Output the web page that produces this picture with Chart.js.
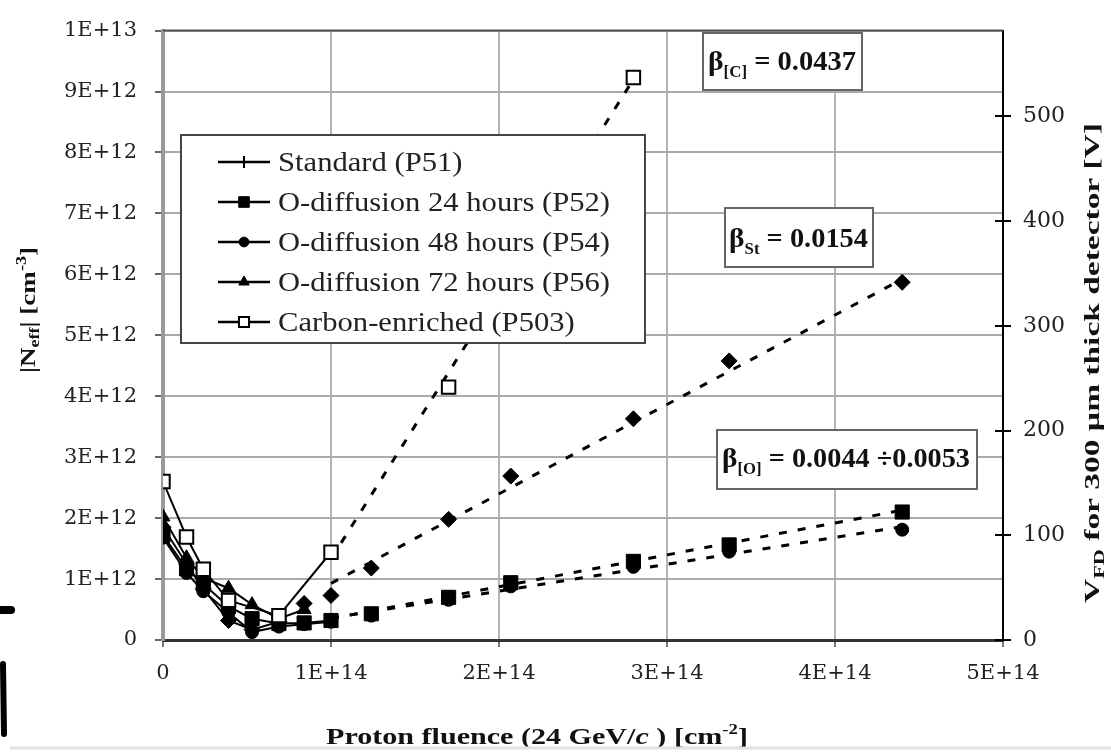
<!DOCTYPE html>
<html><head><meta charset="utf-8">
<script src="https://cdn.jsdelivr.net/npm/chart.js@4.4.1/dist/chart.umd.min.js"></script>
<style>html,body{margin:0;padding:0;background:#fff;overflow:hidden}</style>
</head><body>
<canvas id="c" width="1111" height="753"></canvas>
<script>
// ---------------- DATA ----------------
const xTickValues = [0, 1e14, 2e14, 3e14, 4e14, 5e14];
const yTickValues = [0, 1e12, 2e12, 3e12, 4e12, 5e12, 6e12, 7e12, 8e12, 9e12, 1e13];
const vTickValues = [0, 100, 200, 300, 400, 500];

const seriesNames = ["Standard (P51)", "O-diffusion 24 hours (P52)", "O-diffusion 48 hours (P54)", "O-diffusion 72 hours (P56)", "Carbon-enriched (P503)"];

// Standard (P51)
const p51Fluence = [0, 1.4e13, 2.4e13, 3.9e13, 5.3e13, 6.9e13];
const p51Neff    = [1.85e12, 1.25e12, 0.84e12, 0.32e12, 0.17e12, 0.30e12];
const p51HighFluence = [8.4e13, 1.0e14, 1.24e14, 1.70e14, 2.07e14, 2.80e14, 3.37e14, 4.40e14];
const p51HighNeff    = [0.60e12, 0.73e12, 1.18e12, 1.98e12, 2.69e12, 3.63e12, 4.58e12, 5.87e12];
const p51FitFluence = [1.0e14, 4.4e14];
const p51FitNeff    = [0.93e12, 5.92e12];

// O-diffusion 24 h (P52)
const p52Fluence = [0, 1.4e13, 2.4e13, 3.9e13, 5.3e13, 6.9e13, 8.4e13, 1.0e14];
const p52Neff    = [1.72e12, 1.17e12, 0.92e12, 0.55e12, 0.35e12, 0.27e12, 0.28e12, 0.32e12];
const p52HighFluence = [1.24e14, 1.70e14, 2.07e14, 2.80e14, 3.37e14, 4.40e14];
const p52HighNeff    = [0.43e12, 0.70e12, 0.94e12, 1.29e12, 1.56e12, 2.10e12];
const p52FitFluence = [1.0e14, 4.4e14];
const p52FitNeff    = [0.35e12, 2.13e12];

// O-diffusion 48 h (P54)
const p54Fluence = [0, 1.4e13, 2.4e13, 3.9e13, 5.3e13, 6.9e13, 8.4e13, 1.0e14];
const p54Neff    = [1.68e12, 1.10e12, 0.80e12, 0.45e12, 0.13e12, 0.22e12, 0.26e12, 0.30e12];
const p54HighFluence = [1.24e14, 1.70e14, 2.07e14, 2.80e14, 3.37e14, 4.40e14];
const p54HighNeff    = [0.40e12, 0.66e12, 0.88e12, 1.20e12, 1.45e12, 1.81e12];
const p54FitFluence = [1.0e14, 4.4e14];
const p54FitNeff    = [0.36e12, 1.86e12];

// O-diffusion 72 h (P56)
const p56Fluence = [0, 1.4e13, 2.4e13, 3.9e13, 5.3e13, 6.9e13, 8.4e13];
const p56Neff    = [2.02e12, 1.35e12, 1.02e12, 0.85e12, 0.58e12, 0.35e12, 0.50e12];

// Carbon-enriched (P503)
const p503Fluence = [0, 1.4e13, 2.4e13, 3.9e13, 6.9e13, 1.0e14];
const p503Neff    = [2.60e12, 1.69e12, 1.16e12, 0.65e12, 0.40e12, 1.44e12];
const p503HighFluence = [1.70e14, 2.80e14];
const p503HighNeff    = [4.15e12, 9.23e12];
const p503FitFluence = [1.0e14, 2.8e14];
const p503FitNeff    = [1.33e12, 9.20e12];

const betaLabels = ["0.0437", "0.0154", "0.0044 \u00F70.0053"];

// ---------------- helpers ----------------
const SERIF = '"Liberation Serif", "Times New Roman", serif';
const TICKF = '"DejaVu Serif", serif';
const pts = (xs, ys) => xs.map((x, i) => ({x: x, y: ys[i]}));
const fmtE = v => (Math.abs(v) < 1 ? '0' : Number(v).toExponential(0).replace('e+', 'E+').toUpperCase());

const STYLE = {
  p51:  {pointStyle: 'rectRot',  radius: 8,   bg: '#000', border: '#000', bw: 1},
  p52:  {pointStyle: 'rect',     radius: 10,  bg: '#000', border: '#000', bw: 1},
  p54:  {pointStyle: 'circle',   radius: 6.5, bg: '#000', border: '#000', bw: 1},
  p56:  {pointStyle: 'triangle', radius: 8,   bg: '#000', border: '#000', bw: 1},
  p503: {pointStyle: 'rect',     radius: 9.5, bg: '#fff', border: '#000', bw: 2}
};

function lineDs(label, xs, ys, st) {
  return {label, data: pts(xs, ys), showLine: true, borderColor: '#000', borderWidth: 2,
    pointStyle: st.pointStyle, pointRadius: st.radius, pointBackgroundColor: st.bg,
    pointBorderColor: st.border, pointBorderWidth: st.bw, tension: 0};
}
function markDs(label, xs, ys, st) {
  return {label, data: pts(xs, ys), showLine: false,
    pointStyle: st.pointStyle, pointRadius: st.radius, pointBackgroundColor: st.bg,
    pointBorderColor: st.border, pointBorderWidth: st.bw};
}
function fitDs(label, xs, ys) {
  return {label, data: pts(xs, ys), showLine: true, borderColor: '#000', borderWidth: 3,
    borderDash: [8, 11], pointRadius: 0, tension: 0};
}

const datasets = [
  lineDs(seriesNames[4], p503Fluence, p503Neff, STYLE.p503),
  markDs(seriesNames[4] + ' high', p503HighFluence, p503HighNeff, STYLE.p503),
  lineDs(seriesNames[3], p56Fluence, p56Neff, STYLE.p56),
  lineDs(seriesNames[2], p54Fluence, p54Neff, STYLE.p54),
  lineDs(seriesNames[1], p52Fluence, p52Neff, STYLE.p52),
  markDs(seriesNames[1] + ' high', p52HighFluence, p52HighNeff, STYLE.p52),
  markDs(seriesNames[2] + ' high', p54HighFluence, p54HighNeff, STYLE.p54),
  lineDs(seriesNames[0], p51Fluence, p51Neff, STYLE.p51),
  markDs(seriesNames[0] + ' high', p51HighFluence, p51HighNeff, STYLE.p51),
  fitDs('fit C', p503FitFluence, p503FitNeff),
  fitDs('fit St', p51FitFluence, p51FitNeff),
  fitDs('fit O 24', p52FitFluence, p52FitNeff),
  fitDs('fit O 48', p54FitFluence, p54FitNeff)
];

function richWidth(ctx, parts) {
  let w = 0;
  for (const p of parts) { ctx.font = p.f; w += ctx.measureText(p.t).width; }
  return w;
}
function drawRich(ctx, parts, x, y, target, align) {
  const w = richWidth(ctx, parts);
  const sx = target ? target / w : 1;
  ctx.save();
  ctx.translate(x, y);
  ctx.scale(sx, 1);
  ctx.textAlign = 'left';
  ctx.textBaseline = 'alphabetic';
  let cx = align === 'center' ? -w / 2 : 0;
  for (const p of parts) {
    ctx.font = p.f;
    ctx.fillText(p.t, cx, p.dy || 0);
    cx += ctx.measureText(p.t).width;
  }
  ctx.restore();
}
const B = s => 'bold ' + s + 'px ' + SERIF;
const R = s => s + 'px ' + SERIF;

const decor = {
  id: 'decor',
  beforeDatasetsDraw(chart) {
    const {ctx, chartArea: a} = chart;
    ctx.save();
    ctx.strokeStyle = '#555';
    ctx.lineWidth = 2;
    ctx.beginPath(); ctx.moveTo(a.left, a.top); ctx.lineTo(a.right, a.top); ctx.stroke();
    ctx.restore();
  },
  afterDraw(chart) {
    const {ctx, chartArea: a, scales} = chart;
    ctx.save();
    // inner ticks on right axis
    ctx.strokeStyle = '#000'; ctx.lineWidth = 2;
    for (const v of vTickValues) {
      const y = Math.round(scales.y2.getPixelForValue(v));
      ctx.beginPath(); ctx.moveTo(a.right - 8, y); ctx.lineTo(a.right, y); ctx.stroke();
    }
    // legend
    const L = {x: 181, y: 135, w: 464, h: 208};
    ctx.fillStyle = '#fff'; ctx.fillRect(L.x, L.y, L.w, L.h);
    ctx.strokeStyle = '#444'; ctx.lineWidth = 2; ctx.strokeRect(L.x, L.y, L.w, L.h);
    const legStyles = [
      {pointStyle: 'cross', radius: 8, bg: '#000', border: '#000', bw: 2},
      STYLE.p52, STYLE.p54, STYLE.p56, STYLE.p503];
    ctx.font = R(27);
    const sx = 332 / ctx.measureText(seriesNames[1]).width;
    seriesNames.forEach((name, i) => {
      const cy = 162 + i * 40;
      ctx.strokeStyle = '#000'; ctx.lineWidth = 2.5;
      ctx.beginPath(); ctx.moveTo(218, cy); ctx.lineTo(270, cy); ctx.stroke();
      const st = legStyles[i];
      ctx.fillStyle = st.bg; ctx.strokeStyle = st.border; ctx.lineWidth = st.bw;
      Chart.helpers.drawPoint(ctx, {pointStyle: st.pointStyle, radius: st.radius * 0.75, rotation: 0, borderWidth: st.bw}, 244, cy);
      ctx.fillStyle = '#222';
      ctx.font = R(27);
      drawRich(ctx, [{t: name, f: R(27)}], 278, cy + 9, ctx.measureText(name).width * sx);
    });
    // annotation boxes
    const boxes = [
      {x: 703, y: 33, w: 159, h: 57, sub: '[C]', val: betaLabels[0], tx: 708, tw: 148, base: 70},
      {x: 725, y: 208, w: 148, h: 59, sub: 'St', val: betaLabels[1], tx: 729, tw: 139, base: 247},
      {x: 717, y: 430, w: 260, h: 59, sub: '[O]', val: betaLabels[2], tx: 722, tw: 248, base: 467}
    ];
    for (const b of boxes) {
      ctx.fillStyle = '#fff'; ctx.fillRect(b.x, b.y, b.w, b.h);
      ctx.strokeStyle = '#666'; ctx.lineWidth = 2; ctx.strokeRect(b.x, b.y, b.w, b.h);
      ctx.fillStyle = '#111';
      drawRich(ctx, [{t: '\u03B2', f: B(28)}, {t: b.sub, f: B(16), dy: 7}, {t: ' = ' + b.val, f: B(27)}], b.tx, b.base, b.tw);
    }
    // axis titles
    ctx.fillStyle = '#111';
    drawRich(ctx, [{t: 'Proton fluence (24 GeV/', f: B(24)}, {t: 'c', f: 'italic ' + B(24)},
      {t: ' ) [cm', f: B(24)}, {t: '-2', f: B(15), dy: -10}, {t: ']', f: B(24)}], 537, 744, 422, 'center');
    ctx.save(); ctx.translate(35, 310); ctx.rotate(-Math.PI / 2);
    drawRich(ctx, [{t: '|N', f: B(21)}, {t: 'eff', f: B(14), dy: 4}, {t: '| [cm', f: B(21)},
      {t: '-3', f: B(14), dy: -9}, {t: ']', f: B(21)}], 0, 0, 126, 'center');
    ctx.restore();
    ctx.save(); ctx.translate(1099, 363); ctx.rotate(-Math.PI / 2);
    drawRich(ctx, [{t: 'V', f: B(21)}, {t: 'FD', f: B(14), dy: 5}, {t: ' for 300 \u00B5m thick detector [V]', f: B(21)}], 0, 0, 480, 'center');
    ctx.restore();
    // stray marks and bottom rule of the scanned image
    ctx.strokeStyle = '#000'; ctx.lineCap = 'round';
    ctx.lineWidth = 8; ctx.beginPath(); ctx.moveTo(0, 610); ctx.lineTo(11, 610); ctx.stroke();
    ctx.lineWidth = 6; ctx.beginPath(); ctx.moveTo(3, 664); ctx.lineTo(4, 734); ctx.stroke();
    ctx.lineCap = 'butt';
    ctx.strokeStyle = '#e2e2e2'; ctx.lineWidth = 3;
    ctx.beginPath(); ctx.moveTo(10, 748); ctx.lineTo(1111, 748); ctx.stroke();
    ctx.restore();
  }
};

new Chart(document.getElementById('c'), {
  type: 'scatter',
  data: {datasets},
  plugins: [decor],
  options: {
    responsive: false, animation: false, devicePixelRatio: 1,
    layout: {padding: {top: 20, left: 0, right: 0, bottom: 0}},
    plugins: {legend: {display: false}, tooltip: {enabled: false}},
    scales: {
      x: {type: 'linear', position: 'bottom', min: 0, max: 5e14,
        afterBuildTicks: s => { s.ticks = xTickValues.map(v => ({value: v})); },
        afterFit: s => { s.height = 113; },
        ticks: {callback: fmtE, font: {family: TICKF, size: 21}, color: '#222', padding: 14, maxRotation: 0},
        grid: {color: '#b4b4b4', lineWidth: 2, tickLength: 7, tickColor: '#777'},
        border: {color: '#333', width: 3}},
      y: {type: 'linear', position: 'left', min: 0, max: 1e13,
        afterBuildTicks: s => { s.ticks = yTickValues.map(v => ({value: v})); },
        afterFit: s => { s.width = 163; },
        ticks: {callback: fmtE, font: {family: TICKF, size: 21}, color: '#222', padding: 18},
        grid: {color: '#aaaaaa', lineWidth: 2, tickLength: 8, tickColor: '#666'},
        border: {color: '#999', width: 4}},
      y2: {type: 'linear', position: 'right', min: 0, max: 582,
        afterBuildTicks: s => { s.ticks = vTickValues.map(v => ({value: v})); },
        afterFit: s => { s.width = 108; },
        ticks: {font: {family: TICKF, size: 22}, color: '#222', padding: 12},
        grid: {drawOnChartArea: false, color: '#000', lineWidth: 2, tickLength: 8},
        border: {color: '#000', width: 2}}
    }
  }
});
</script>
</body></html>
